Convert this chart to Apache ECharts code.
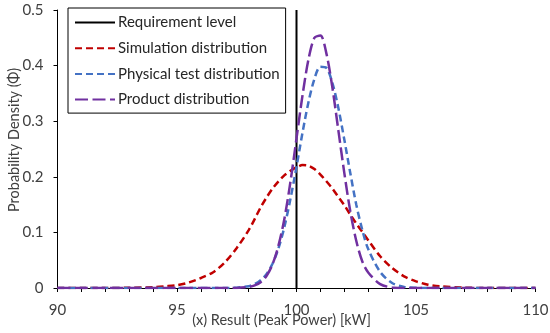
<!DOCTYPE html>
<html>
<head>
<meta charset="utf-8">
<script src="https://cdn.jsdelivr.net/npm/echarts@6/dist/echarts.min.js"></script>
<style>html,body{margin:0;padding:0;background:#fff;}#chart{width:550px;height:333px;}</style>
</head>
<body>
<div id="chart"></div>
<script>
var seriesNames = ['Requirement level', 'Simulation distribution', 'Physical test distribution', 'Product distribution'];
var xValues = [90, 91, 92, 93, 94, 94.5, 95, 95.5, 96, 96.5, 97, 97.5, 98, 98.25, 98.5, 98.75, 99, 99.25, 99.5, 99.75, 100, 100.25, 100.5, 100.75, 101, 101.25, 101.5, 101.75, 102, 102.25, 102.5, 102.75, 103, 103.5, 104, 104.5, 105, 105.5, 106, 107, 108, 109, 110];
var simValues = [0, 0, 0.0001, 0.0004, 0.0015, 0.003, 0.005, 0.010, 0.018, 0.028, 0.046, 0.072, 0.104, 0.124, 0.145, 0.163, 0.179, 0.192, 0.203, 0.211, 0.217, 0.221, 0.220, 0.214, 0.204, 0.192, 0.179, 0.164, 0.149, 0.132, 0.116, 0.101, 0.086, 0.057, 0.036, 0.021, 0.012, 0.006, 0.003, 0.0006, 0.0001, 0, 0];
var physValues = [0, 0, 0, 0, 0, 0, 0, 0, 0, 0, 0.0001, 0.0006, 0.0033, 0.007, 0.014, 0.025, 0.044, 0.072, 0.111, 0.161, 0.218, 0.279, 0.334, 0.376, 0.398, 0.396, 0.369, 0.324, 0.267, 0.207, 0.150, 0.105, 0.070, 0.029, 0.009, 0.002, 0.0003, 0, 0, 0, 0, 0, 0];
var prodValues = [0, 0, 0, 0, 0, 0, 0, 0, 0, 0, 0, 0.0002, 0.0018, 0.0046, 0.0104, 0.022, 0.043, 0.077, 0.126, 0.192, 0.269, 0.346, 0.411, 0.450, 0.454, 0.422, 0.361, 0.284, 0.207, 0.138, 0.085, 0.048, 0.028, 0.007, 0.001, 0.0001, 0, 0, 0, 0, 0, 0, 0];
var requirementX = 100;
var requirementSpan = [0, 0.5];
var xRange = [90, 110];
var yRange = [0, 0.5];
var xLabelStep = 5;
var xName = '(x) Result (Peak Power) [kW]';
var yName = 'Probability Density (Φ)';

function pairs(xs, ys) { return xs.map(function (x, i) { return [x, ys[i]]; }); }

var FONT = 'Lato';
var TXT = '#404040';
var chart = echarts.init(document.getElementById('chart'));
chart.setOption({
  animation: false,
  backgroundColor: '#fff',
  grid: { left: 57.5, right: 14.5, top: 10, bottom: 45, containLabel: false, outerBoundsMode: 'none' },
  legend: {
    orient: 'vertical', left: 68, top: 8,
    data: seriesNames,
    itemWidth: 40, itemHeight: 14, itemGap: 10.7,
    borderColor: '#000', borderWidth: 1, padding: [7, 6, 6, 6],
    backgroundColor: '#fff',
    itemStyle: { opacity: 0 },
    textStyle: { fontFamily: FONT, fontSize: 15, color: '#262626', padding: [0, 0, 0, -2] }
  },
  xAxis: {
    type: 'value', min: xRange[0], max: xRange[1], interval: 1,
    name: xName, nameLocation: 'middle', nameGap: 25, nameMoveOverlap: false,
    nameTextStyle: { fontFamily: FONT, fontSize: 14.5, color: TXT, padding: [0, 30, 0, 0] },
    axisLine: { lineStyle: { color: '#000', width: 1 } },
    axisTick: { show: true, inside: false, length: 4, lineStyle: { color: '#000' } },
    axisLabel: {
      fontFamily: FONT, fontSize: 15, color: TXT, margin: 15,
      formatter: function (v) { return (v % xLabelStep === 0) ? String(v) : ''; }
    },
    splitLine: { show: false }
  },
  yAxis: {
    type: 'value', min: yRange[0], max: yRange[1], interval: 0.1,
    name: yName, nameLocation: 'middle', nameGap: 36, nameMoveOverlap: false,
    nameTextStyle: { fontFamily: FONT, fontSize: 14.5, color: TXT, padding: [0, 0, 0, 18] },
    axisLine: { show: true, lineStyle: { color: '#000', width: 1 } },
    axisTick: { show: true, inside: false, length: 4, lineStyle: { color: '#000' } },
    axisLabel: { fontFamily: FONT, fontSize: 15, color: TXT, margin: 14 },
    splitLine: { show: false }
  },
  series: [
    {
      name: seriesNames[0], type: 'line', symbol: 'none',
      data: [[requirementX, requirementSpan[0]], [requirementX, requirementSpan[1]]],
      lineStyle: { color: '#000', width: 2, type: 'solid' }, itemStyle: { color: '#000' }, z: 1
    },
    {
      name: seriesNames[1], type: 'line', symbol: 'none', smooth: 0.3,
      data: pairs(xValues, simValues),
      lineStyle: { color: '#C00000', width: 2.5, type: [7, 4] }, itemStyle: { color: '#C00000' }, z: 2
    },
    {
      name: seriesNames[2], type: 'line', symbol: 'none', smooth: 0.3,
      data: pairs(xValues, physValues),
      lineStyle: { color: '#4472C4', width: 2.5, type: [7, 4] }, itemStyle: { color: '#4472C4' }, z: 3
    },
    {
      name: seriesNames[3], type: 'line', symbol: 'none', smooth: 0.3,
      data: pairs(xValues, prodValues),
      lineStyle: { color: '#7030A0', width: 2.5, type: [13, 4.5] }, itemStyle: { color: '#7030A0' }, z: 4
    }
  ]
});
</script>
</body>
</html>
